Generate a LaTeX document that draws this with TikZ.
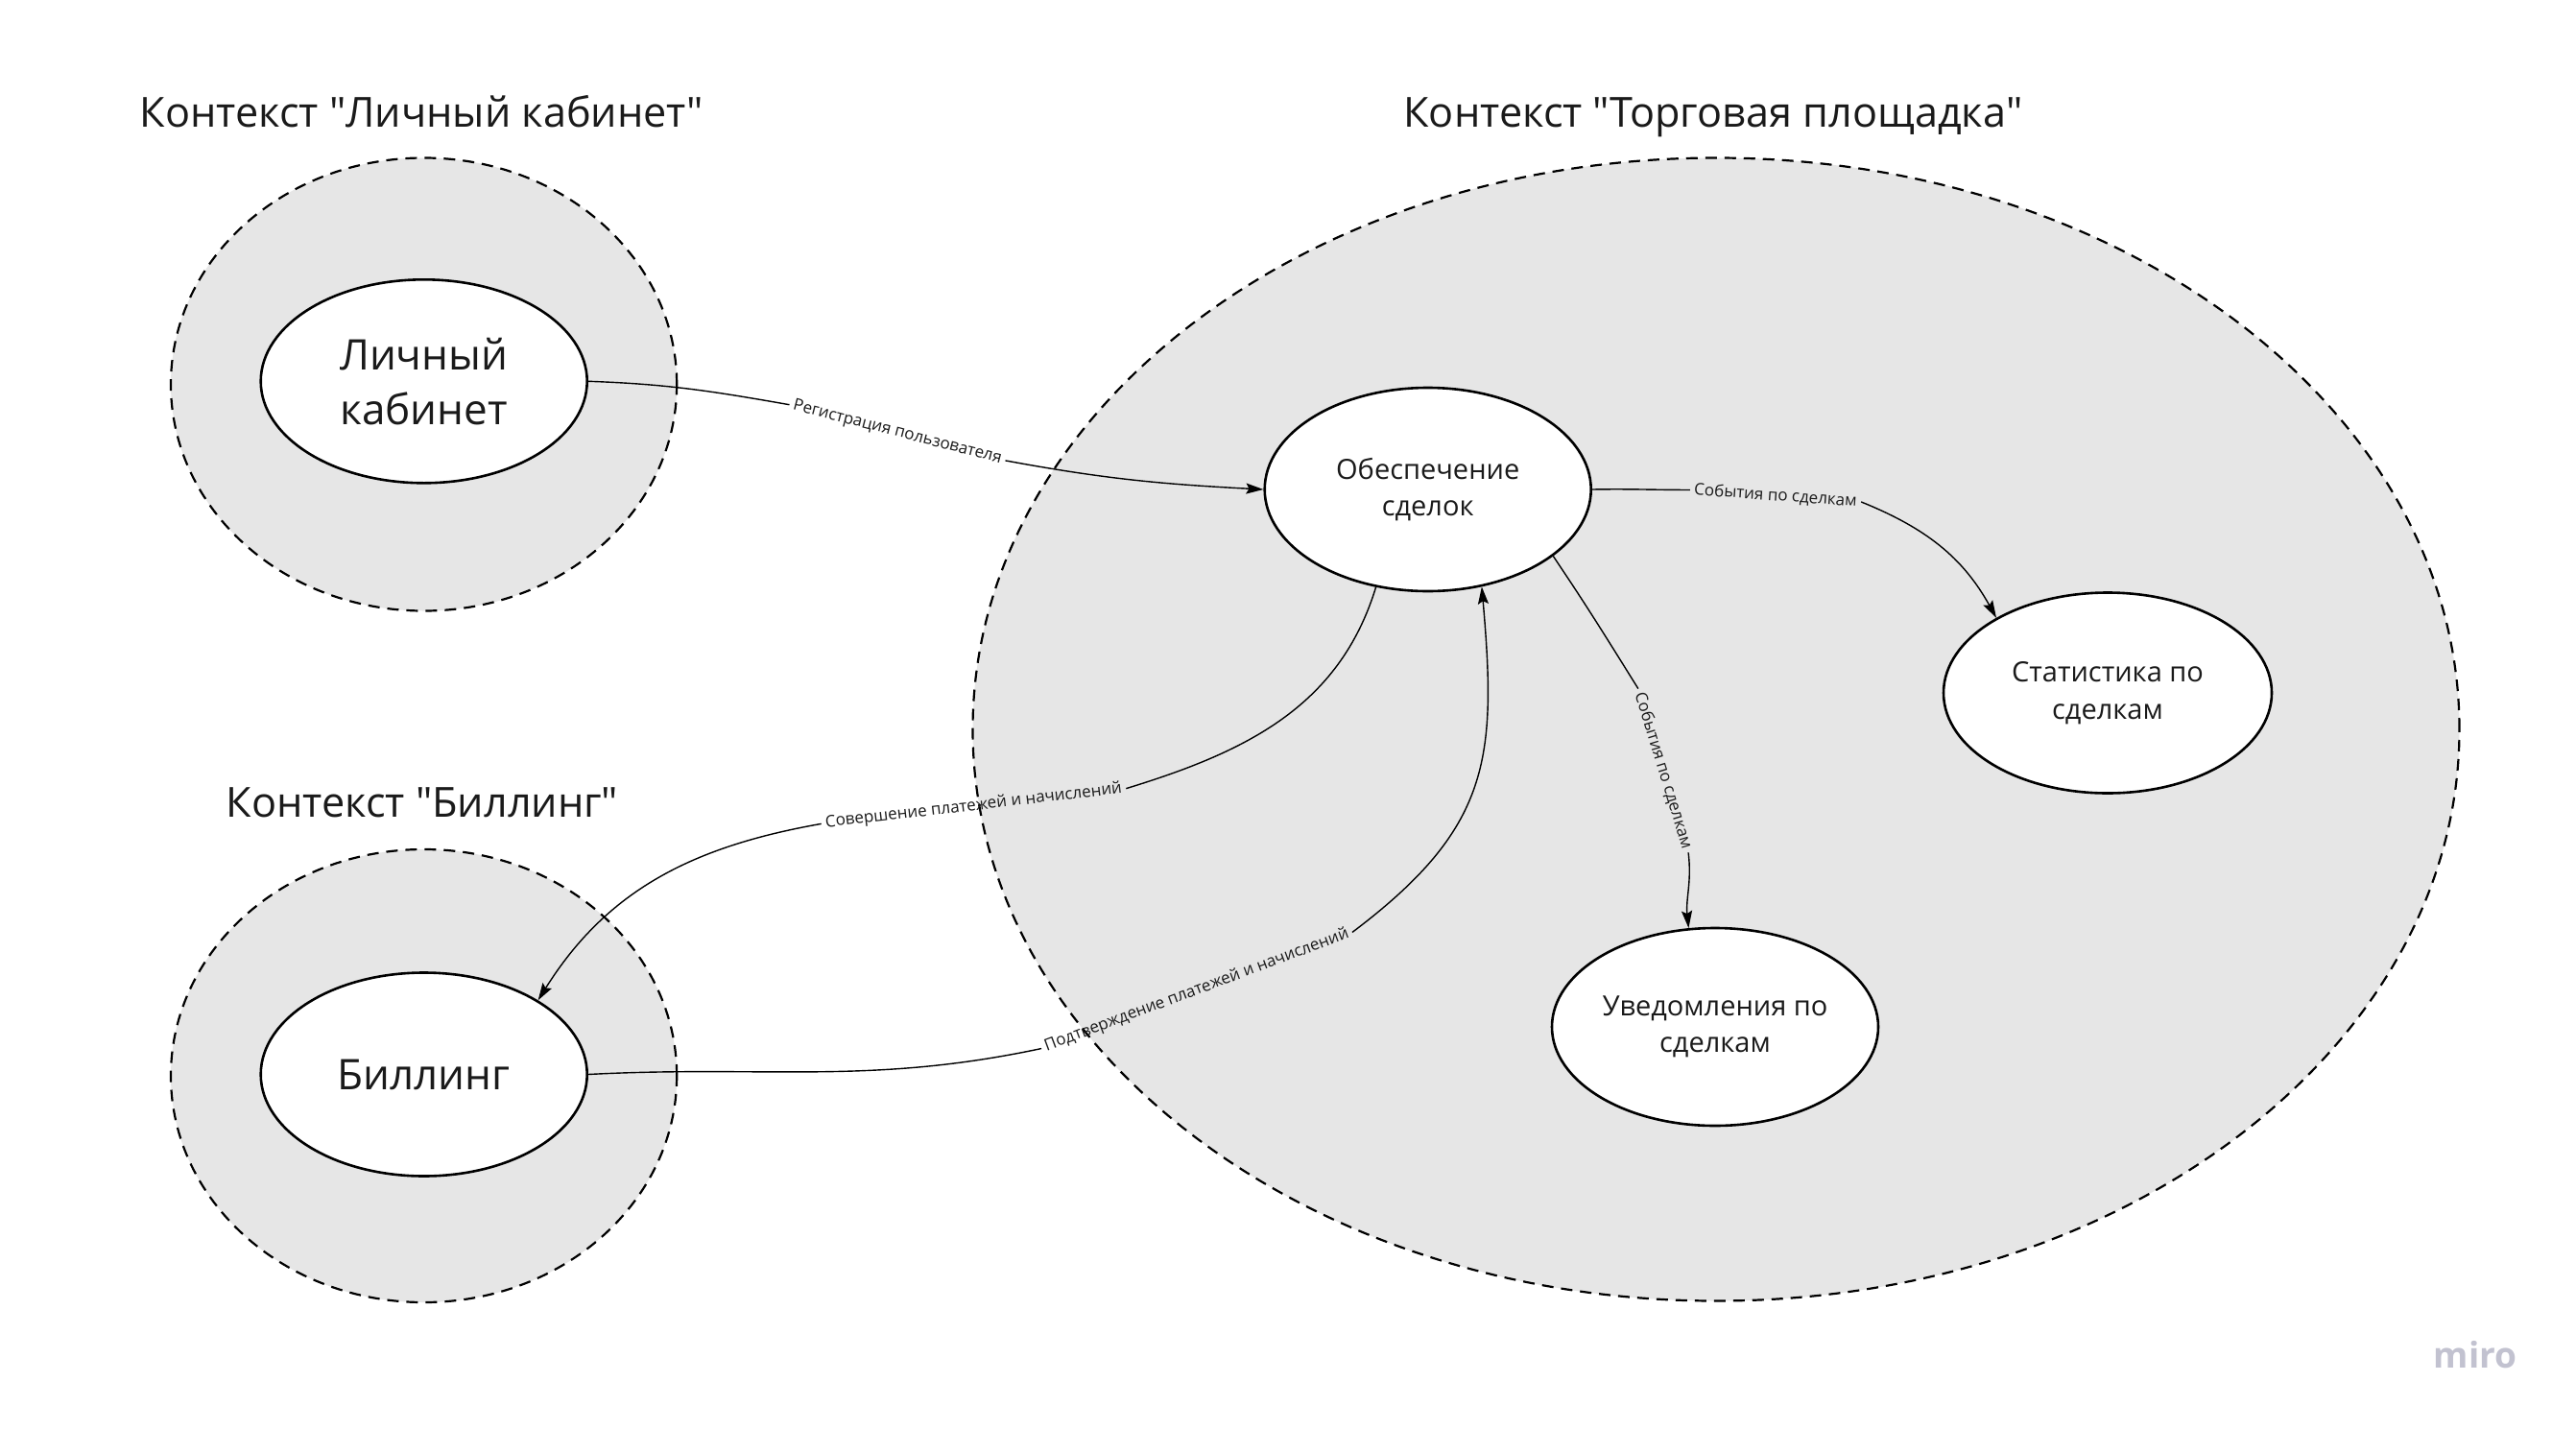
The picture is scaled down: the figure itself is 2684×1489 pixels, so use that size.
\documentclass[tikz,border=0pt]{standalone}
\usepackage{fontspec}
\setmainfont{Open Sans}
\usetikzlibrary{arrows.meta,shapes.geometric}
\definecolor{ctxgray}{HTML}{E6E6E6}
\definecolor{txt}{HTML}{1A1A1A}
\definecolor{miroc}{HTML}{C2C2D0}
\begin{document}
\begin{tikzpicture}[x=0.5pt,y=-0.5pt,
  ctx/.style={ellipse, draw=black, fill=ctxgray, dash pattern=on 6pt off 4pt, line width=1.1pt, inner sep=0},
  svc/.style={ellipse, draw=black, fill=white, line width=1.3pt, inner sep=0, text=txt, align=center},
  bigtxt/.style={font=\fontsize{22}{28.3}\selectfont},
  midtxt/.style={font=\fontsize{14.5}{19.2}\selectfont},
  ttl/.style={font=\fontsize{21.6}{25}\selectfont, text=txt, anchor=base, inner sep=0},
  lbl/.style={font=\fontsize{8.5}{10}\selectfont, text=txt, inner sep=2pt},
  conn/.style={draw=black, line width=0.7pt},
  arr/.style={-{Stealth[length=9pt,width=5.5pt,inset=1.5pt]}}
]
\fill[white] (0,0) rectangle (2684,1489);
\path[use as bounding box] (0,0) rectangle (2684,1489);

% context regions
\node[ctx, minimum width=263.6pt, minimum height=236pt] (c1) at (441.6,400.5) {};
\node[ctx, minimum width=263.6pt, minimum height=236pt] (c2) at (441.6,1121) {};
\node[ctx, minimum width=774.5pt, minimum height=595.5pt] (c3) at (1788,760) {};

% titles
\node[ttl] (t1) at (439,132) {Контекст \textquotedbl Личный кабинет\textquotedbl};
\node[ttl] (t2) at (440,851) {Контекст \textquotedbl Биллинг\textquotedbl};
\node[ttl] (t3) at (1785,132) {Контекст \textquotedbl Торговая площадка\textquotedbl};

% services
\node[svc, bigtxt, minimum width=170pt, minimum height=106pt] (lk) at (441.7,397.3) {Личный\\кабинет};
\node[svc, bigtxt, minimum width=170pt, minimum height=106pt] (bi) at (441.7,1119.5) {Биллинг};
\node[svc, midtxt, minimum width=170pt, minimum height=106pt] (ob) at (1487.7,510) {Обеспечение\\сделок};
\node[svc, midtxt, minimum width=171pt, minimum height=104.5pt] (st) at (2196,722) {Статистика по\\сделкам};
\node[svc, midtxt, minimum width=170pt, minimum height=103pt] (uv) at (1787,1070) {Уведомления по\\сделкам};

% connector labels
\node[lbl, rotate=-14.5] (L1) at (935,450.8) {Регистрация пользователя};
\node[lbl, rotate=-4] (L2) at (1850,516.7) {События по сделкам};
\node[lbl, rotate=-73] (L3) at (1733,803) {События по сделкам};
\node[lbl, rotate=6.6] (L4) at (1014.5,840) {Совершение платежей и начислений};
\node[lbl, rotate=20.5] (L5) at (1247,1032) {Подтверждение платежей и начислений};

% connectors
\draw[conn] (lk.east) to[out=-2, in=170] (L1.west);
\draw[conn, arr] (L1.east) to[out=-10.5, in=177] (ob.west);

\draw[conn] (ob.east) to[out=1, in=180] (L2.west);
\draw[conn, arr] (L2.east) to[out=-22, in=119] (st.146);

\draw[conn] (ob.-28) to[out=-56, in=122] (L3.west);
\draw[conn, arr] (L3.east) to[out=-83, in=96] (uv.105);

\draw[conn] (ob.-118) to[out=-107, in=17] (L4.east);
\draw[conn, arr] (L4.west) to[out=190, in=58] (bi.33);

\draw[conn] (bi.east) to[out=3, in=192] (L5.west);
\draw[conn, arr] (L5.east) to[out=37, in=-85, looseness=1.2] (ob.-61);

% watermark
\node[font=\fontsize{18.5}{20}\bfseries, text=miroc, anchor=base, inner sep=0] (wm) at (2579,1425) {miro};
\end{tikzpicture}
\end{document}
